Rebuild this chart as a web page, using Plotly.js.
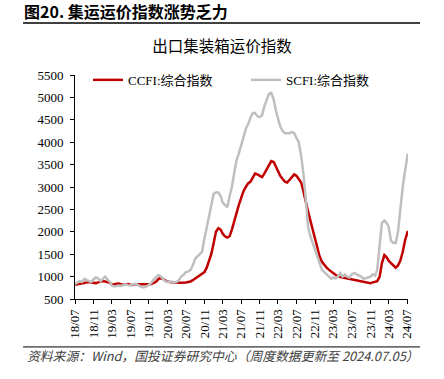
<!DOCTYPE html>
<html>
<head>
<meta charset="utf-8">
<script src="https://cdn.plot.ly/plotly-3.0.1.min.js"></script>
<style>html,body{margin:0;padding:0;background:#fff;}#chart{width:444px;height:379px;}</style>
</head>
<body>
<div id="chart"></div>
<script>
// semi-monthly observation dates (1st and 16th), Jul 2018 .. Jun 2024, plus last obs 2024-07-05
const dates = [];
for (let y = 2018; y <= 2024; y++) {
  for (let m = 1; m <= 12; m++) {
    if (y === 2018 && m < 7) continue;
    if (y === 2024 && m > 6) continue;
    const mm = String(m).padStart(2, '0');
    dates.push(y + '-' + mm + '-01', y + '-' + mm + '-16');
  }
}
dates.push('2024-07-05');

const ccfi = [
  815,825, 840,850, 860,870, 880,870, 860,855, 870,880,
  900,890, 880,860, 830,825, 840,845, 830,820, 830,835, 820,815, 830,830, 830,820, 820,815, 830,835, 850,880,
  940,970, 950,920, 890,880, 870,870, 860,860, 860,865, 870,880, 890,920, 960,1000, 1020,1060, 1100,1200, 1330,1500,
  1750,2000, 2080,2050, 1960,1900, 1870,1900, 2050,2250, 2450,2600, 2750,2900, 3000,3080, 3120,3200, 3300,3280, 3250,3220, 3300,3400,
  3500,3580, 3560,3450, 3350,3250, 3180,3120, 3100,3150, 3220,3280, 3250,3180, 3100,2900, 2700,2450, 2250,2050, 1850,1650, 1450,1330,
  1250,1200, 1150,1110, 1080,1050, 1000,990, 980,960, 950,940, 930,930, 920,900, 890,880, 870,860, 850,870, 880,900,
  1000,1300, 1480,1430, 1350,1300, 1230,1200, 1250,1350, 1550,1800, 2020
];
const scfi = [
  830,870, 900,880, 950,920, 900,880, 940,980, 960,900,
  950,1000, 930,880, 800,780, 790,800, 790,810, 830,810, 800,820, 840,820, 790,760, 760,780, 820,860, 930,990,
  1030,1010, 960,900, 880,880, 890,870, 880,920, 1000,1040, 1100,1110, 1150,1250, 1400,1450, 1500,1550, 1850,2100, 2400,2650,
  2850,2880, 2880,2800, 2650,2600, 2550,2800, 3000,3300, 3600,3750, 3900,4100, 4300,4400, 4550,4650, 4650,4580, 4560,4600, 4800,4950,
  5080,5100, 4950,4700, 4550,4350, 4250,4200, 4200,4200, 4230,4200, 4100,4000, 3700,3300, 2700,2100, 1900,1750, 1550,1400, 1250,1150,
  1100,1060, 1000,950, 980,960, 1000,1080, 1000,1050, 1000,980, 1050,1080, 1050,1030, 1000,950, 960,980, 1000,1050, 1020,1150,
  1700,2200, 2250,2200, 2100,1800, 1750,1750, 2000,2500, 3000,3350, 3750
];

const tickDates = ['2018-07-01','2018-11-01','2019-03-01','2019-07-01','2019-11-01','2020-03-01','2020-07-01',
  '2020-11-01','2021-03-01','2021-07-01','2021-11-01','2022-03-01','2022-07-01','2022-11-01','2023-03-01',
  '2023-07-01','2023-11-01','2024-03-01','2024-07-01'];
const tickLabels = ['18/07','18/11','19/03','19/07','19/11','20/03','20/07','20/11','21/03','21/07','21/11',
  '22/03','22/07','22/11','23/03','23/07','23/11','24/03','24/07'];

const seriesNames = ['CCFI:综合指数', 'SCFI:综合指数'];
const figTitle = '图20. 集运运价指数涨势乏力';
const chartTitle = '出口集装箱运价指数';
const sourceNote = '资料来源：Wind，国投证券研究中心（周度数据更新至 2024.07.05）';

const serif = '"Liberation Serif", "Times New Roman", "Noto Sans CJK SC", serif';
const cjk = '"Noto Sans CJK SC", "Noto Sans", sans-serif';

const traces = [
  {x: dates, y: ccfi, name: seriesNames[0], type: 'scatter', mode: 'lines',
   line: {color: '#C00000', width: 2.5}},
  {x: dates, y: scfi, name: seriesNames[1], type: 'scatter', mode: 'lines',
   line: {color: '#BFBFBF', width: 2.5}}
];

const layout = {
  width: 444, height: 379,
  margin: {l: 75, r: 36, t: 75, b: 80, pad: 0},
  paper_bgcolor: '#fff', plot_bgcolor: '#fff',
  showlegend: true,
  legend: {orientation: 'h', x: 0.039, y: 1.045, xanchor: 'left', yanchor: 'top',
    font: {family: serif, size: 13, color: '#000'}, bgcolor: 'rgba(0,0,0,0)',
    entrywidth: 113, entrywidthmode: 'pixels'},
  title: {text: chartTitle, x: 0.5, xref: 'container', xanchor: 'center',
    y: 1 - 47 / 379, yref: 'container', yanchor: 'middle',
    font: {family: cjk, size: 15.5, color: '#000'}},
  xaxis: {type: 'date', range: ['2018-07-01', '2024-07-06'],
    tickmode: 'array', tickvals: tickDates, ticktext: tickLabels, tickangle: -90,
    ticks: 'outside', ticklen: 4, tickcolor: '#000', tickwidth: 1,
    showline: true, linecolor: '#000', linewidth: 1, showgrid: false, zeroline: false,
    tickfont: {family: serif, size: 13, color: '#000'}},
  yaxis: {range: [500, 5500], tick0: 500, dtick: 500,
    ticks: 'outside', ticklen: 4, tickcolor: '#000', tickwidth: 1, ticklabelstandoff: 4,
    showline: true, linecolor: '#000', linewidth: 1, showgrid: false, zeroline: false,
    tickfont: {family: serif, size: 13, color: '#000'}},
  shapes: [
    {type: 'line', xref: 'paper', yref: 'paper', x0: -0.156, x1: 1.036, y0: 1.232, y1: 1.232,
     line: {color: '#000', width: 1.5}},
    {type: 'line', xref: 'paper', yref: 'paper', x0: -0.156, x1: 1.036, y0: -0.214, y1: -0.214,
     line: {color: '#000', width: 1}}
  ],
  annotations: [
    {text: '<b>' + figTitle + '</b>', xref: 'paper', yref: 'paper', x: -0.156, y: 1.2835,
     xanchor: 'left', yanchor: 'middle', showarrow: false, borderpad: 0,
     font: {family: cjk, size: 16, color: '#000'}},
    {text: '<i>' + sourceNote + '</i>', xref: 'paper', yref: 'paper', x: -0.15, y: -0.25,
     xanchor: 'left', yanchor: 'middle', showarrow: false,
     font: {family: cjk, size: 12.8, color: '#404040', style: 'italic'}}
  ]
};

Plotly.newPlot('chart', traces, layout, {displayModeBar: false, staticPlot: true});
</script>
</body>
</html>
